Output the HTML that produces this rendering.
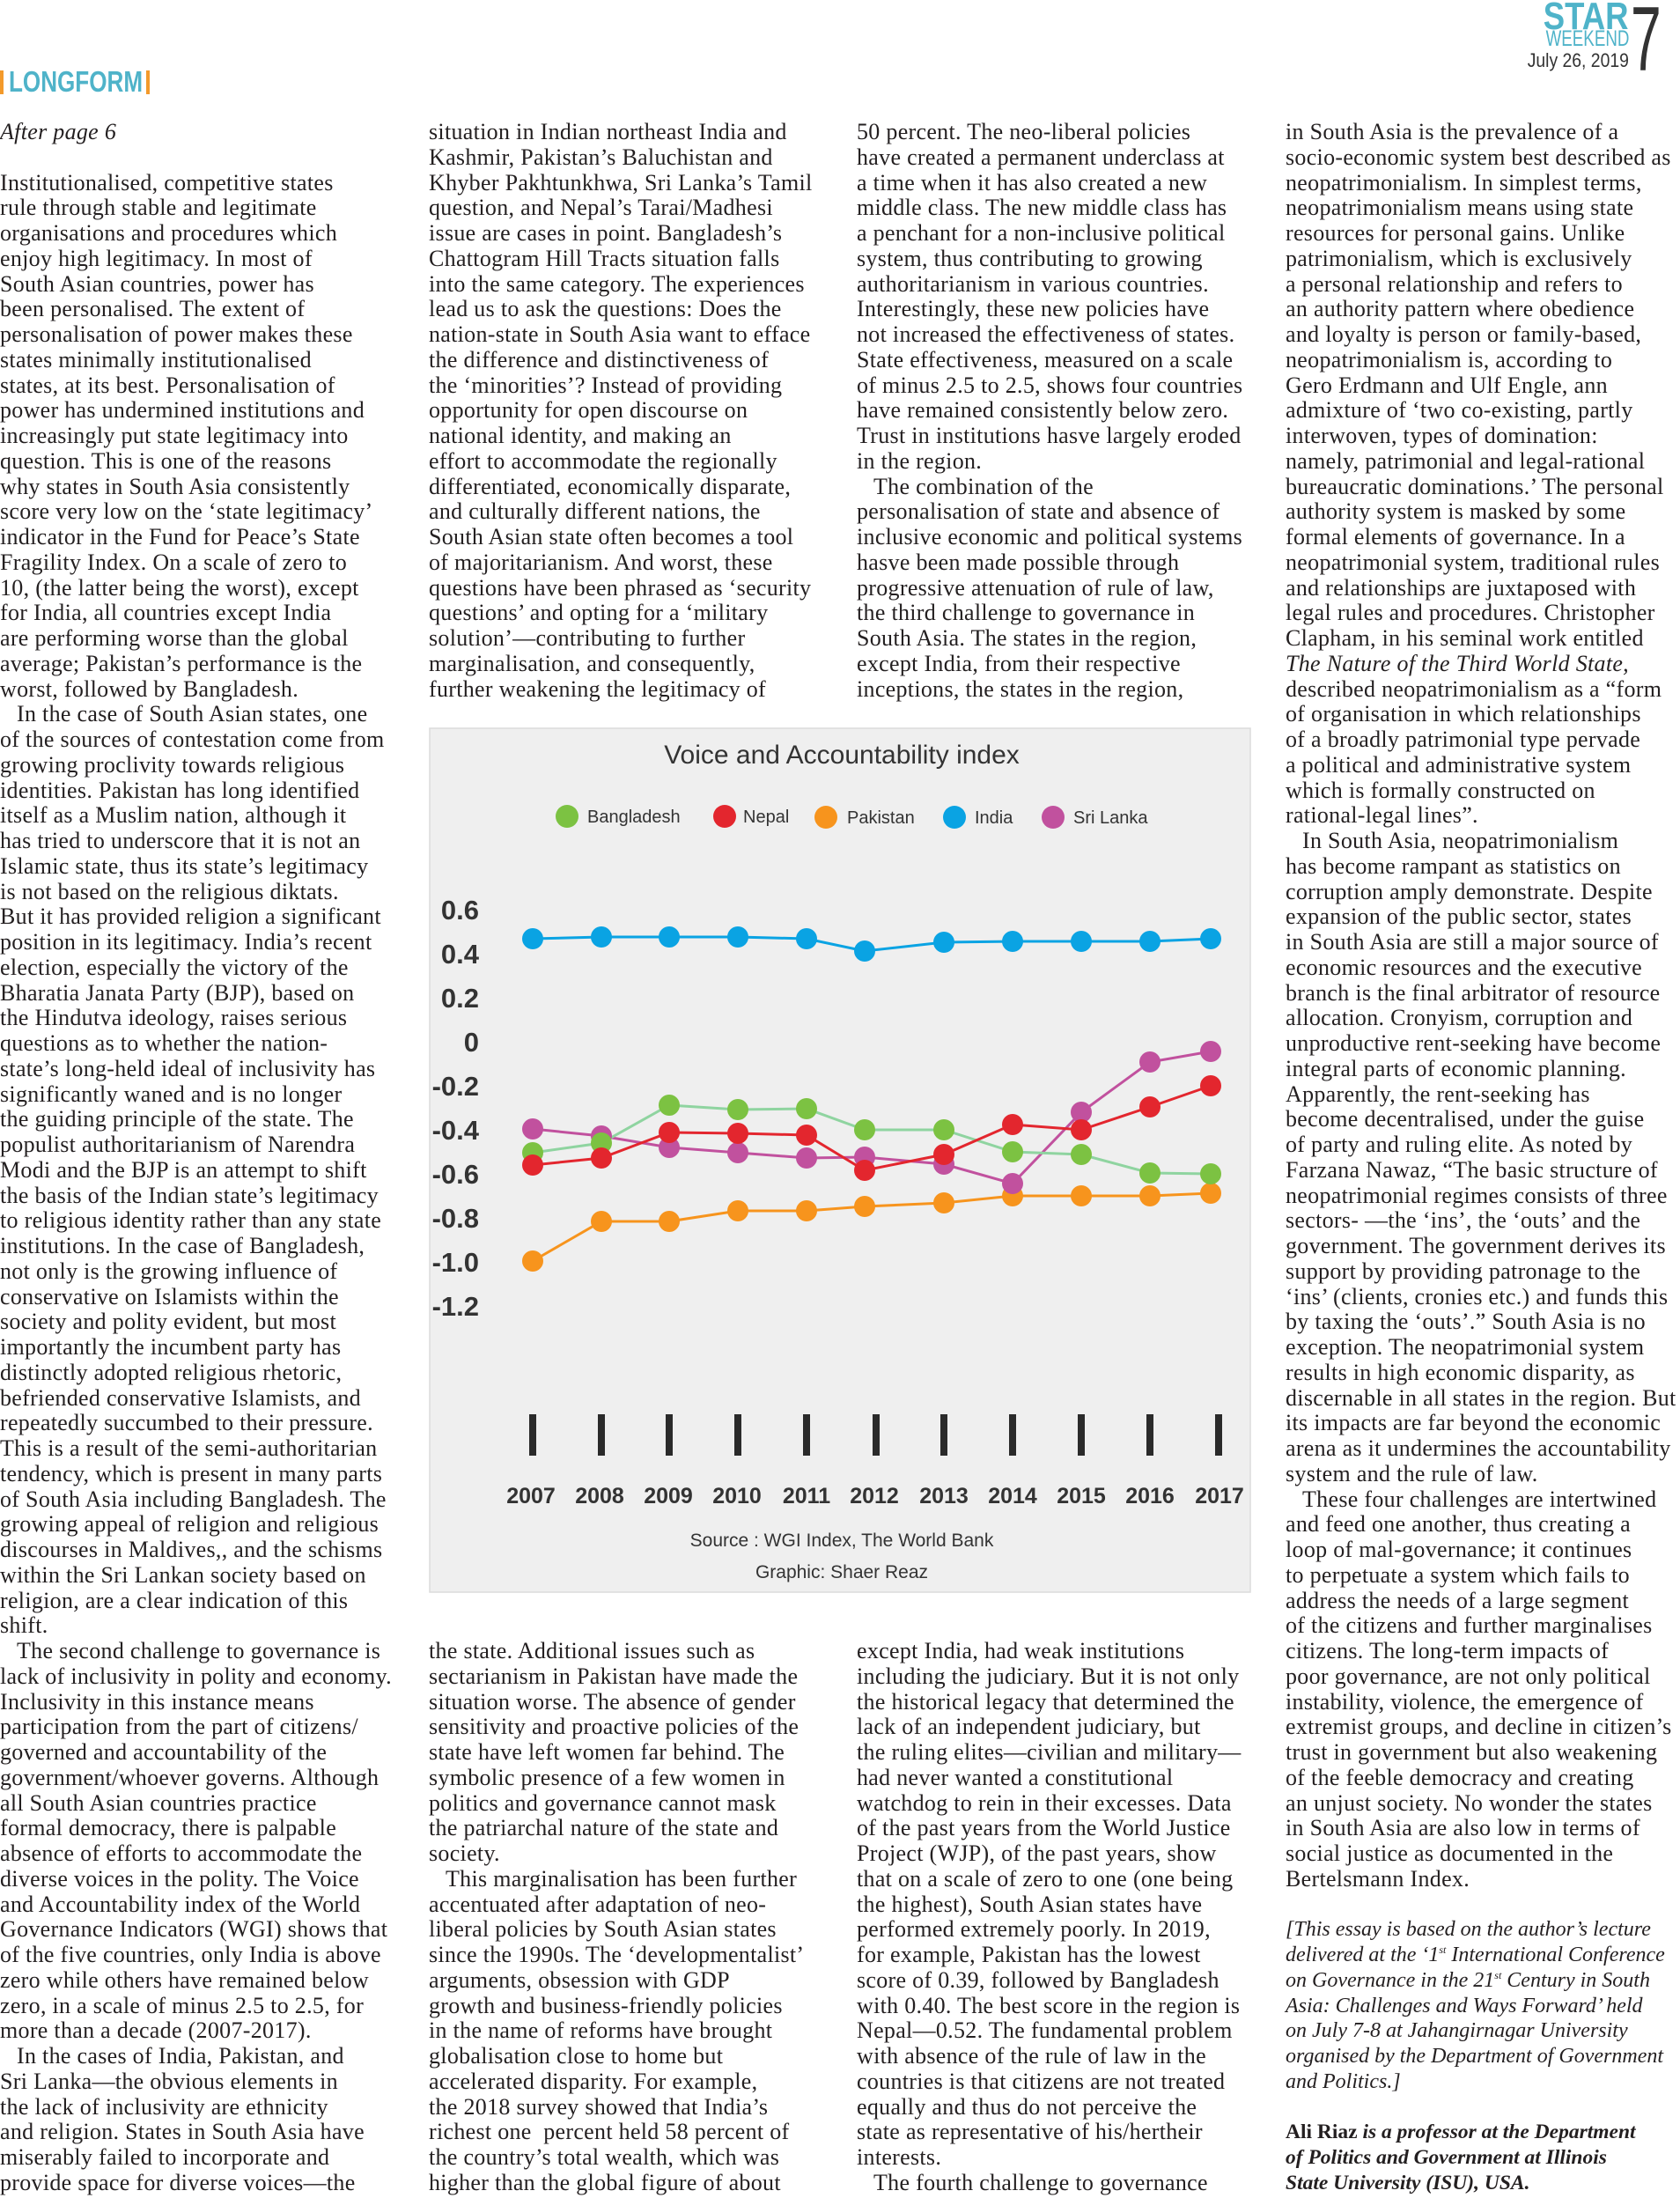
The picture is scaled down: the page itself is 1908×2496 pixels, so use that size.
<!DOCTYPE html>
<html><head><meta charset="utf-8"><style>
html,body{margin:0;padding:0;background:#fff;}
body{width:1908px;height:2496px;position:relative;overflow:hidden;font-family:"Liberation Serif",serif;color:#231f20;}
.col{position:absolute;font-size:26px;letter-spacing:0.3px;line-height:28.75px;white-space:nowrap;}
.col div{height:28.75px;}
.in{padding-left:19px;}
.it{font-style:italic;}
.ft{font-style:italic;font-size:24px;letter-spacing:0;}
.bd{font-weight:bold;font-size:23.5px;letter-spacing:0;}
.hd{position:absolute;font-family:"Liberation Sans Narrow","Liberation Sans",sans-serif;white-space:nowrap;}
sup{font-size:12px;line-height:0;vertical-align:9px;}
</style></head><body>
<div class="hd" style="right:58px;top:-6px;font-size:44px;font-weight:bold;color:#4fb3c9;transform:scaleX(0.83);transform-origin:right top;">STAR</div>
<div class="hd" style="right:58px;top:30px;font-size:25px;color:#4fb3c9;transform:scaleX(0.75);transform-origin:right top;">WEEKEND</div>
<div class="hd" style="right:58px;top:56px;font-size:22px;color:#333;transform:scaleX(0.88);transform-origin:right top;">July 26, 2019</div>
<div class="hd" style="left:1852px;top:-14px;font-size:104px;color:#333;transform:scaleX(0.6);transform-origin:left top;">7</div>
<div style="position:absolute;left:0;top:80px;width:4px;height:27px;background:#f39a2b"></div>
<div style="position:absolute;left:166px;top:80px;width:4px;height:27px;background:#f39a2b"></div>
<div class="hd" style="left:10px;top:74px;font-size:33px;font-weight:bold;color:#4fb3c9;transform:scaleX(0.79);transform-origin:left top;">LONGFORM</div>

<div class="col" style="left:0;top:136px;">
<div class="it">After page 6</div><div></div>
<div>Institutionalised, competitive states</div>
<div>rule through stable and legitimate</div>
<div>organisations and procedures which</div>
<div>enjoy high legitimacy. In most of</div>
<div>South Asian countries, power has</div>
<div>been personalised. The extent of</div>
<div>personalisation of power makes these</div>
<div>states minimally institutionalised</div>
<div>states, at its best. Personalisation of</div>
<div>power has undermined institutions and</div>
<div>increasingly put state legitimacy into</div>
<div>question. This is one of the reasons</div>
<div>why states in South Asia consistently</div>
<div>score very low on the ‘state legitimacy’</div>
<div>indicator in the Fund for Peace’s State</div>
<div>Fragility Index. On a scale of zero to</div>
<div>10, (the latter being the worst), except</div>
<div>for India, all countries except India</div>
<div>are performing worse than the global</div>
<div>average; Pakistan’s performance is the</div>
<div>worst, followed by Bangladesh.</div>
<div class="in">In the case of South Asian states, one</div>
<div>of the sources of contestation come from</div>
<div>growing proclivity towards religious</div>
<div>identities. Pakistan has long identified</div>
<div>itself as a Muslim nation, although it</div>
<div>has tried to underscore that it is not an</div>
<div>Islamic state, thus its state’s legitimacy</div>
<div>is not based on the religious diktats.</div>
<div>But it has provided religion a significant</div>
<div>position in its legitimacy. India’s recent</div>
<div>election, especially the victory of the</div>
<div>Bharatia Janata Party (BJP), based on</div>
<div>the Hindutva ideology, raises serious</div>
<div>questions as to whether the nation-</div>
<div>state’s long-held ideal of inclusivity has</div>
<div>significantly waned and is no longer</div>
<div>the guiding principle of the state. The</div>
<div>populist authoritarianism of Narendra</div>
<div>Modi and the BJP is an attempt to shift</div>
<div>the basis of the Indian state’s legitimacy</div>
<div>to religious identity rather than any state</div>
<div>institutions. In the case of Bangladesh,</div>
<div>not only is the growing influence of</div>
<div>conservative on Islamists within the</div>
<div>society and polity evident, but most</div>
<div>importantly the incumbent party has</div>
<div>distinctly adopted religious rhetoric,</div>
<div>befriended conservative Islamists, and</div>
<div>repeatedly succumbed to their pressure.</div>
<div>This is a result of the semi-authoritarian</div>
<div>tendency, which is present in many parts</div>
<div>of South Asia including Bangladesh. The</div>
<div>growing appeal of religion and religious</div>
<div>discourses in Maldives,, and the schisms</div>
<div>within the Sri Lankan society based on</div>
<div>religion, are a clear indication of this</div>
<div>shift.</div>
<div class="in">The second challenge to governance is</div>
<div>lack of inclusivity in polity and economy.</div>
<div>Inclusivity in this instance means</div>
<div>participation from the part of citizens/</div>
<div>governed and accountability of the</div>
<div>government/whoever governs. Although</div>
<div>all South Asian countries practice</div>
<div>formal democracy, there is palpable</div>
<div>absence of efforts to accommodate the</div>
<div>diverse voices in the polity. The Voice</div>
<div>and Accountability index of the World</div>
<div>Governance Indicators (WGI) shows that</div>
<div>of the five countries, only India is above</div>
<div>zero while others have remained below</div>
<div>zero, in a scale of minus 2.5 to 2.5, for</div>
<div>more than a decade (2007-2017).</div>
<div class="in">In the cases of India, Pakistan, and</div>
<div>Sri Lanka—the obvious elements in</div>
<div>the lack of inclusivity are ethnicity</div>
<div>and religion. States in South Asia have</div>
<div>miserably failed to incorporate and</div>
<div>provide space for diverse voices—the</div>
</div>

<div class="col" style="left:487px;top:136px;">
<div>situation in Indian northeast India and</div>
<div>Kashmir, Pakistan’s Baluchistan and</div>
<div>Khyber Pakhtunkhwa, Sri Lanka’s Tamil</div>
<div>question, and Nepal’s Tarai/Madhesi</div>
<div>issue are cases in point. Bangladesh’s</div>
<div>Chattogram Hill Tracts situation falls</div>
<div>into the same category. The experiences</div>
<div>lead us to ask the questions: Does the</div>
<div>nation-state in South Asia want to efface</div>
<div>the difference and distinctiveness of</div>
<div>the ‘minorities’? Instead of providing</div>
<div>opportunity for open discourse on</div>
<div>national identity, and making an</div>
<div>effort to accommodate the regionally</div>
<div>differentiated, economically disparate,</div>
<div>and culturally different nations, the</div>
<div>South Asian state often becomes a tool</div>
<div>of majoritarianism. And worst, these</div>
<div>questions have been phrased as ‘security</div>
<div>questions’ and opting for a ‘military</div>
<div>solution’—contributing to further</div>
<div>marginalisation, and consequently,</div>
<div>further weakening the legitimacy of</div>
</div>
<div class="col" style="left:487px;top:1861px;">
<div>the state. Additional issues such as</div>
<div>sectarianism in Pakistan have made the</div>
<div>situation worse. The absence of gender</div>
<div>sensitivity and proactive policies of the</div>
<div>state have left women far behind. The</div>
<div>symbolic presence of a few women in</div>
<div>politics and governance cannot mask</div>
<div>the patriarchal nature of the state and</div>
<div>society.</div>
<div class="in">This marginalisation has been further</div>
<div>accentuated after adaptation of neo-</div>
<div>liberal policies by South Asian states</div>
<div>since the 1990s. The ‘developmentalist’</div>
<div>arguments, obsession with GDP</div>
<div>growth and business-friendly policies</div>
<div>in the name of reforms have brought</div>
<div>globalisation close to home but</div>
<div>accelerated disparity. For example,</div>
<div>the 2018 survey showed that India’s</div>
<div>richest one &nbsp;percent held 58 percent of</div>
<div>the country’s total wealth, which was</div>
<div>higher than the global figure of about</div>
</div>

<div class="col" style="left:973px;top:136px;">
<div>50 percent. The neo-liberal policies</div>
<div>have created a permanent underclass at</div>
<div>a time when it has also created a new</div>
<div>middle class. The new middle class has</div>
<div>a penchant for a non-inclusive political</div>
<div>system, thus contributing to growing</div>
<div>authoritarianism in various countries.</div>
<div>Interestingly, these new policies have</div>
<div>not increased the effectiveness of states.</div>
<div>State effectiveness, measured on a scale</div>
<div>of minus 2.5 to 2.5, shows four countries</div>
<div>have remained consistently below zero.</div>
<div>Trust in institutions hasve largely eroded</div>
<div>in the region.</div>
<div class="in">The combination of the</div>
<div>personalisation of state and absence of</div>
<div>inclusive economic and political systems</div>
<div>hasve been made possible through</div>
<div>progressive attenuation of rule of law,</div>
<div>the third challenge to governance in</div>
<div>South Asia. The states in the region,</div>
<div>except India, from their respective</div>
<div>inceptions, the states in the region,</div>
</div>
<div class="col" style="left:973px;top:1861px;">
<div>except India, had weak institutions</div>
<div>including the judiciary. But it is not only</div>
<div>the historical legacy that determined the</div>
<div>lack of an independent judiciary, but</div>
<div>the ruling elites—civilian and military—</div>
<div>had never wanted a constitutional</div>
<div>watchdog to rein in their excesses. Data</div>
<div>of the past years from the World Justice</div>
<div>Project (WJP), of the past years, show</div>
<div>that on a scale of zero to one (one being</div>
<div>the highest), South Asian states have</div>
<div>performed extremely poorly. In 2019,</div>
<div>for example, Pakistan has the lowest</div>
<div>score of 0.39, followed by Bangladesh</div>
<div>with 0.40. The best score in the region is</div>
<div>Nepal—0.52. The fundamental problem</div>
<div>with absence of the rule of law in the</div>
<div>countries is that citizens are not treated</div>
<div>equally and thus do not perceive the</div>
<div>state as representative of his/hertheir</div>
<div>interests.</div>
<div class="in">The fourth challenge to governance</div>
</div>

<div class="col" style="left:1460px;top:136px;">
<div>in South Asia is the prevalence of a</div>
<div>socio-economic system best described as</div>
<div>neopatrimonialism. In simplest terms,</div>
<div>neopatrimonialism means using state</div>
<div>resources for personal gains. Unlike</div>
<div>patrimonialism, which is exclusively</div>
<div>a personal relationship and refers to</div>
<div>an authority pattern where obedience</div>
<div>and loyalty is person or family-based,</div>
<div>neopatrimonialism is, according to</div>
<div>Gero Erdmann and Ulf Engle, ann</div>
<div>admixture of ‘two co-existing, partly</div>
<div>interwoven, types of domination:</div>
<div>namely, patrimonial and legal-rational</div>
<div>bureaucratic dominations.’ The personal</div>
<div>authority system is masked by some</div>
<div>formal elements of governance. In a</div>
<div>neopatrimonial system, traditional rules</div>
<div>and relationships are juxtaposed with</div>
<div>legal rules and procedures. Christopher</div>
<div>Clapham, in his seminal work entitled</div>
<div class="it">The Nature of the Third World State,</div>
<div>described neopatrimonialism as a “form</div>
<div>of organisation in which relationships</div>
<div>of a broadly patrimonial type pervade</div>
<div>a political and administrative system</div>
<div>which is formally constructed on</div>
<div>rational-legal lines”.</div>
<div class="in">In South Asia, neopatrimonialism</div>
<div>has become rampant as statistics on</div>
<div>corruption amply demonstrate. Despite</div>
<div>expansion of the public sector, states</div>
<div>in South Asia are still a major source of</div>
<div>economic resources and the executive</div>
<div>branch is the final arbitrator of resource</div>
<div>allocation. Cronyism, corruption and</div>
<div>unproductive rent-seeking have become</div>
<div>integral parts of economic planning.</div>
<div>Apparently, the rent-seeking has</div>
<div>become decentralised, under the guise</div>
<div>of party and ruling elite. As noted by</div>
<div>Farzana Nawaz, “The basic structure of</div>
<div>neopatrimonial regimes consists of three</div>
<div>sectors- —the ‘ins’, the ‘outs’ and the</div>
<div>government. The government derives its</div>
<div>support by providing patronage to the</div>
<div>‘ins’ (clients, cronies etc.) and funds this</div>
<div>by taxing the ‘outs’.” South Asia is no</div>
<div>exception. The neopatrimonial system</div>
<div>results in high economic disparity, as</div>
<div>discernable in all states in the region. But</div>
<div>its impacts are far beyond the economic</div>
<div>arena as it undermines the accountability</div>
<div>system and the rule of law.</div>
<div class="in">These four challenges are intertwined</div>
<div>and feed one another, thus creating a</div>
<div>loop of mal-governance; it continues</div>
<div>to perpetuate a system which fails to</div>
<div>address the needs of a large segment</div>
<div>of the citizens and further marginalises</div>
<div>citizens. The long-term impacts of</div>
<div>poor governance, are not only political</div>
<div>instability, violence, the emergence of</div>
<div>extremist groups, and decline in citizen’s</div>
<div>trust in government but also weakening</div>
<div>of the feeble democracy and creating</div>
<div>an unjust society. No wonder the states</div>
<div>in South Asia are also low in terms of</div>
<div>social justice as documented in the</div>
<div>Bertelsmann Index.</div>
<div></div>
<div class="ft">[This essay is based on the author’s lecture</div>
<div class="ft">delivered at the ‘1<sup>st</sup> International Conference</div>
<div class="ft">on Governance in the 21<sup>st</sup> Century in South</div>
<div class="ft">Asia: Challenges and Ways Forward’ held</div>
<div class="ft">on July 7-8 at Jahangirnagar University</div>
<div class="ft">organised by the Department of Government</div>
<div class="ft">and Politics.]</div>
<div></div>
<div class="bd"><span>Ali Riaz</span><span class="it"> is a professor at the Department</span></div>
<div class="bd it">of Politics and Government at Illinois</div>
<div class="bd it">State University (ISU), USA.</div>
</div>

<svg style="position:absolute;left:0;top:0" width="1908" height="2496" xmlns="http://www.w3.org/2000/svg" font-family="Liberation Sans, sans-serif">
<rect x="488" y="827" width="932" height="981" fill="#efefef" stroke="#dcdcdc" stroke-width="1.5"/>
<text x="956" y="867" text-anchor="middle" font-size="30" fill="#333">Voice and Accountability index</text>
<g font-size="20" fill="#333">
<circle cx="644" cy="927" r="13" fill="#7cc242"/><text x="667" y="934">Bangladesh</text>
<circle cx="823" cy="927" r="13" fill="#e3262e"/><text x="844" y="934">Nepal</text>
<circle cx="938" cy="928" r="13" fill="#f7941d"/><text x="962" y="935">Pakistan</text>
<circle cx="1084" cy="928" r="13" fill="#0aa3e3"/><text x="1107" y="935">India</text>
<circle cx="1196" cy="928" r="13" fill="#c1519e"/><text x="1219" y="935">Sri Lanka</text>
</g>
<g font-size="31" font-weight="bold" fill="#333" text-anchor="end">
<text x="544" y="1044">0.6</text><text x="544" y="1094">0.4</text><text x="544" y="1144">0.2</text>
<text x="544" y="1194">0</text><text x="544" y="1244">-0.2</text><text x="544" y="1294">-0.4</text>
<text x="544" y="1344">-0.6</text><text x="544" y="1394">-0.8</text><text x="544" y="1444">-1.0</text>
<text x="544" y="1494">-1.2</text>
</g>
<g stroke="#2a2a2a" stroke-width="8">
<line x1="605" y1="1606" x2="605" y2="1653"/><line x1="683" y1="1606" x2="683" y2="1653"/>
<line x1="760" y1="1606" x2="760" y2="1653"/><line x1="838" y1="1606" x2="838" y2="1653"/>
<line x1="916" y1="1606" x2="916" y2="1653"/><line x1="995" y1="1606" x2="995" y2="1653"/>
<line x1="1072" y1="1606" x2="1072" y2="1653"/><line x1="1150" y1="1606" x2="1150" y2="1653"/>
<line x1="1228" y1="1606" x2="1228" y2="1653"/><line x1="1306" y1="1606" x2="1306" y2="1653"/>
<line x1="1384" y1="1606" x2="1384" y2="1653"/>
</g>
<g font-size="25" font-weight="bold" fill="#333" text-anchor="middle">
<text x="603" y="1707">2007</text><text x="681" y="1707">2008</text><text x="759" y="1707">2009</text>
<text x="837" y="1707">2010</text><text x="916" y="1707">2011</text><text x="993" y="1707">2012</text>
<text x="1072" y="1707">2013</text><text x="1150" y="1707">2014</text><text x="1228" y="1707">2015</text>
<text x="1306" y="1707">2016</text><text x="1385" y="1707">2017</text>
</g>
<text x="956" y="1756" text-anchor="middle" font-size="21" fill="#333">Source : WGI Index, The World Bank</text>
<text x="956" y="1792" text-anchor="middle" font-size="21" fill="#333">Graphic: Shaer Reaz</text>

<g fill="none" stroke-width="3">
<polyline stroke="#f7941d" points="605,1432 683,1387 760,1387 838,1375 916,1375 982,1370 1072,1366 1150,1358 1228,1358 1306,1358 1375,1355"/>
<polyline stroke="#c1519e" points="605,1282 683,1290 760,1303 838,1309 916,1315 982,1314 1072,1322 1150,1344 1228,1263 1306,1206 1375,1194"/>
<polyline stroke="#8fd4a0" points="605,1309 683,1298 760,1255 838,1260 916,1259 982,1283 1072,1283 1150,1308 1228,1311 1306,1332 1375,1333"/>
<polyline stroke="#e3262e" points="605,1323 683,1315 760,1286 838,1287 916,1289 982,1329 1072,1311 1150,1277 1228,1283 1306,1257 1375,1233"/>
<polyline stroke="#0aa3e3" points="605,1066 683,1064 760,1064 838,1064 916,1066 982,1080 1072,1070 1150,1069 1228,1069 1306,1069 1375,1066"/>
</g>
<g fill="#f7941d"><circle cx="605" cy="1432" r="12"/><circle cx="683" cy="1387" r="12"/><circle cx="760" cy="1387" r="12"/><circle cx="838" cy="1375" r="12"/><circle cx="916" cy="1375" r="12"/><circle cx="982" cy="1370" r="12"/><circle cx="1072" cy="1366" r="12"/><circle cx="1150" cy="1358" r="12"/><circle cx="1228" cy="1358" r="12"/><circle cx="1306" cy="1358" r="12"/><circle cx="1375" cy="1355" r="12"/></g>
<g fill="#c1519e"><circle cx="605" cy="1282" r="12"/><circle cx="683" cy="1290" r="12"/><circle cx="760" cy="1303" r="12"/><circle cx="838" cy="1309" r="12"/><circle cx="916" cy="1315" r="12"/><circle cx="982" cy="1314" r="12"/><circle cx="1072" cy="1322" r="12"/><circle cx="1150" cy="1344" r="12"/><circle cx="1228" cy="1263" r="12"/><circle cx="1306" cy="1206" r="12"/><circle cx="1375" cy="1194" r="12"/></g>
<g fill="#7cc242"><circle cx="605" cy="1309" r="12"/><circle cx="683" cy="1298" r="12"/><circle cx="760" cy="1255" r="12"/><circle cx="838" cy="1260" r="12"/><circle cx="916" cy="1259" r="12"/><circle cx="982" cy="1283" r="12"/><circle cx="1072" cy="1283" r="12"/><circle cx="1150" cy="1308" r="12"/><circle cx="1228" cy="1311" r="12"/><circle cx="1306" cy="1332" r="12"/><circle cx="1375" cy="1333" r="12"/></g>
<g fill="#e3262e"><circle cx="605" cy="1323" r="12"/><circle cx="683" cy="1315" r="12"/><circle cx="760" cy="1286" r="12"/><circle cx="838" cy="1287" r="12"/><circle cx="916" cy="1289" r="12"/><circle cx="982" cy="1329" r="12"/><circle cx="1072" cy="1311" r="12"/><circle cx="1150" cy="1277" r="12"/><circle cx="1228" cy="1283" r="12"/><circle cx="1306" cy="1257" r="12"/><circle cx="1375" cy="1233" r="12"/></g>
<g fill="#0aa3e3"><circle cx="605" cy="1066" r="12"/><circle cx="683" cy="1064" r="12"/><circle cx="760" cy="1064" r="12"/><circle cx="838" cy="1064" r="12"/><circle cx="916" cy="1066" r="12"/><circle cx="982" cy="1080" r="12"/><circle cx="1072" cy="1070" r="12"/><circle cx="1150" cy="1069" r="12"/><circle cx="1228" cy="1069" r="12"/><circle cx="1306" cy="1069" r="12"/><circle cx="1375" cy="1066" r="12"/></g>
</svg>
</body></html>
